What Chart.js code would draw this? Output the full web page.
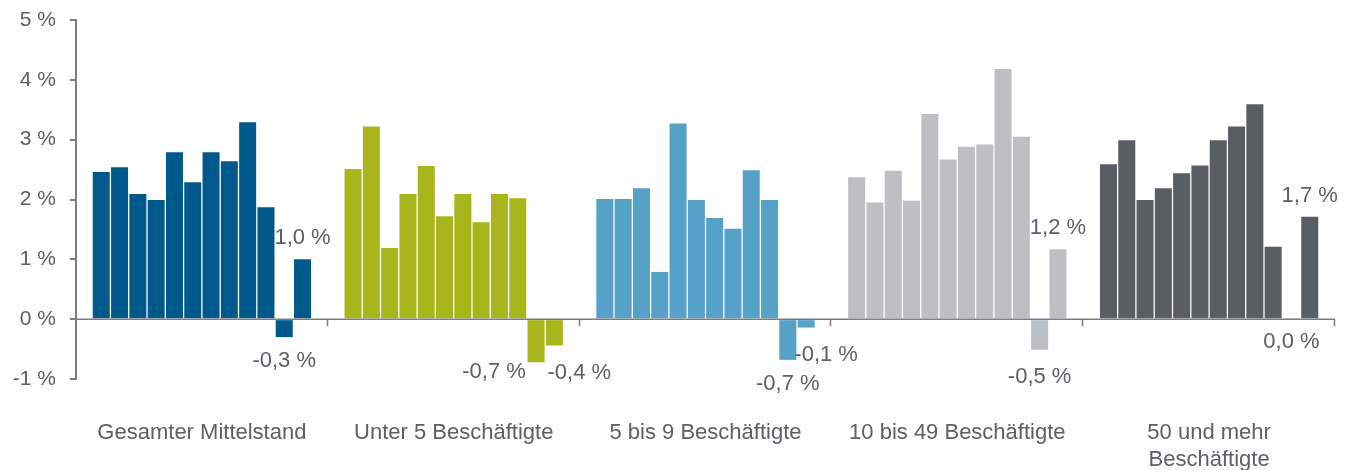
<!DOCTYPE html>
<html>
<head>
<meta charset="utf-8">
<script src="https://cdn.jsdelivr.net/npm/chart.js@4"></script>
<style>
  html, body { margin: 0; padding: 0; background: #ffffff; }
  #wrap { width: 1350px; height: 470px; position: relative; }
</style>
</head>
<body>
<div id="wrap"><canvas id="c"></canvas></div>
<script>
// ---- data ----
const categories = [
  'Gesamter Mittelstand',
  'Unter 5 Beschäftigte',
  '5 bis 9 Beschäftigte',
  '10 bis 49 Beschäftigte',
  ['50 und mehr', 'Beschäftigte']
];
const gesamt   = [2.46, 2.54, 2.09, 1.99, 2.79, 2.29, 2.79, 2.64, 3.29, 1.87, -0.30, 1.00];
const unter5   = [2.51, 3.22, 1.19, 2.09, 2.56, 1.72, 2.09, 1.62, 2.09, 2.02, -0.72, -0.44];
const bis9     = [2.01, 2.01, 2.19, 0.79, 3.27, 1.99, 1.69, 1.51, 2.49, 1.99, -0.68, -0.14];
const bis49    = [2.37, 1.95, 2.48, 1.98, 3.43, 2.67, 2.88, 2.92, 4.18, 3.05, -0.51, 1.17];
const ab50     = [2.59, 2.99, 1.99, 2.19, 2.44, 2.57, 2.99, 3.22, 3.59, 1.21, 0.02, 1.71];
const groupColors = ['#00598b', '#a8b51b', '#55a1c8', '#bdc0c3', '#585e63'];
const yTicks = [-1, 0, 1, 2, 3, 4, 5];
const labelledBars = [10, 11]; // bars within each group that carry a value label

const groups = [gesamt, unter5, bis9, bis49, ab50];
const nBars = gesamt.length;
const datasets = [];
for (let b = 0; b < nBars; b++) {
  datasets.push({
    data: groups.map(g => g[b]),
    backgroundColor: groupColors,
    borderWidth: 0,
    categoryPercentage: 0.872,
    barPercentage: 0.93
  });
}

const textColor = '#5b6065';
const axisColor = '#7a7e82';

// label nudges for readability where labels would collide: key "bar-group" -> [dx, dy]
const labelNudge = { '10-1': [-42, -14], '11-1': [25, 3], '11-2': [20, 3], '10-3': [0, 3] };

const zeroLinePlugin = {
  id: 'zeroLine',
  afterDatasetsDraw(chart) {
    const { ctx, chartArea, scales } = chart;
    const y0 = scales.y.getPixelForValue(0);
    ctx.save();
    ctx.strokeStyle = axisColor;
    ctx.lineWidth = 1.5;
    ctx.beginPath();
    ctx.moveTo(chartArea.left, y0);
    ctx.lineTo(chartArea.right, y0);
    const w = (chartArea.right - chartArea.left) / categories.length;
    for (let i = 1; i <= categories.length; i++) {
      const x = Math.round(chartArea.left + i * w) - 0.5;
      ctx.moveTo(x, y0);
      ctx.lineTo(x, y0 + 7);
    }
    ctx.stroke();
    ctx.restore();
  }
};

const valueLabelPlugin = {
  id: 'valueLabels',
  afterDatasetsDraw(chart) {
    const { ctx } = chart;
    ctx.save();
    ctx.font = '22px "Liberation Sans", Arial, sans-serif';
    ctx.fillStyle = textColor;
    ctx.textAlign = 'center';
    ctx.textBaseline = 'middle';
    labelledBars.forEach(b => {
      const meta = chart.getDatasetMeta(b);
      meta.data.forEach((el, i) => {
        const v = chart.data.datasets[b].data[i];
        const txt = v.toFixed(1).replace('.', ',') + ' %';
        let x = el.x, y;
        if (v > 0.05) y = el.y - 21;
        else y = Math.max(el.y, el.base) + 24;
        const n = labelNudge[b + '-' + i];
        if (n) { x += n[0]; y += n[1]; }
        ctx.fillText(txt, x, y);
      });
    });
    ctx.restore();
  }
};

new Chart(document.getElementById('c'), {
  type: 'bar',
  data: { labels: categories, datasets },
  options: {
    responsive: true,
    maintainAspectRatio: false,
    animation: false,
    layout: { padding: { top: 20, right: 15, left: 0, bottom: 0 } },
    plugins: { legend: { display: false }, tooltip: { enabled: false } },
    scales: {
      x: {
        grid: { display: false, drawTicks: false },
        border: { display: false },
        ticks: {
          color: textColor,
          padding: 40,
          maxRotation: 0,
          autoSkip: false,
          font: { family: '"Liberation Sans", Arial, sans-serif', size: 22, lineHeight: 1.227 }
        },
        afterFit(scale) { scale.height = 91; scale.paddingLeft = 0; scale.paddingRight = 0; }
      },
      y: {
        min: -1,
        max: 5,
        afterBuildTicks(scale) { scale.ticks = yTicks.map(v => ({ value: v })); },
        grid: { drawOnChartArea: false, drawTicks: true, tickLength: 6, color: axisColor, lineWidth: 2 },
        border: { display: true, color: axisColor, width: 2 },
        ticks: {
          color: textColor,
          padding: 14,
          font: { family: '"Liberation Sans", Arial, sans-serif', size: 21 },
          callback: v => v + ' %'
        },
        afterFit(scale) { scale.width = 76; scale.paddingTop = 0; scale.paddingBottom = 0; }
      }
    }
  },
  plugins: [zeroLinePlugin, valueLabelPlugin]
});
</script>
</body>
</html>
